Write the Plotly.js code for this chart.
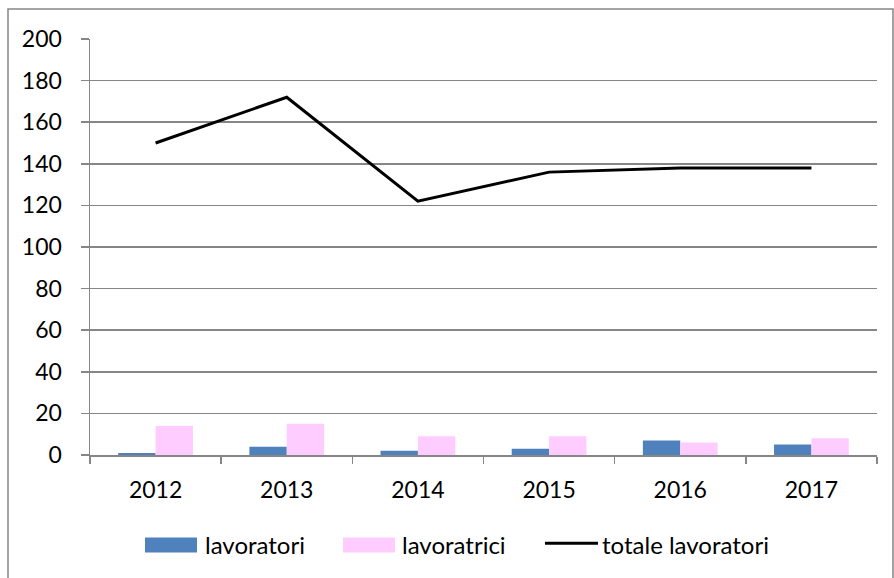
<!DOCTYPE html>
<html>
<head>
<meta charset="utf-8">
<script src="https://cdn.plot.ly/plotly-3.0.1.min.js"></script>
<style>html,body{margin:0;padding:0;background:#fff;}#chart{width:894px;height:578px;}</style>
</head>
<body>
<div id="chart"></div>
<script>
const years = ["2012", "2013", "2014", "2015", "2016", "2017"];
const lavoratori = [1, 4, 2, 3, 7, 5];
const lavoratrici = [14, 15, 9, 9, 6, 8];
const totaleLavoratori = [150, 172, 122, 136, 138, 138];
const yTicks = [0, 20, 40, 60, 80, 100, 120, 140, 160, 180, 200];
const seriesNames = ["lavoratori", "lavoratrici", "totale lavoratori"];
const seriesColors = ["#4F81BD", "#FFCCFF", "#000000"];

const font = "Lato, 'Open Sans', sans-serif";
const traces = [
  {type: "bar", name: seriesNames[0], x: years, y: lavoratori, marker: {color: seriesColors[0]}},
  {type: "bar", name: seriesNames[1], x: years, y: lavoratrici, marker: {color: seriesColors[1]}},
  {type: "scatter", mode: "lines", name: seriesNames[2], x: years, y: totaleLavoratori,
   line: {color: seriesColors[2], width: 3}}
];

// custom legend (positions in paper coords)
const legY = -0.2163, legH = 0.036;
const legend = [
  {x0: 0.0699, x1: 0.1360, tx: 0.1436, kind: "rect"},
  {x0: 0.3215, x1: 0.3875, tx: 0.3939, kind: "rect"},
  {x0: 0.5781, x1: 0.6455, tx: 0.6480, kind: "line"}
];
const shapes = [{type: "rect", xref: "paper", yref: "paper", x0: -0.1042, x1: 1.0203, y0: -0.33, y1: 1.072,
            line: {color: "#868686", width: 1.5}, fillcolor: "rgba(0,0,0,0)", layer: "below"}];
const annotations = [];
legend.forEach((l, i) => {
  if (l.kind === "rect") {
    shapes.push({type: "rect", xref: "paper", yref: "paper", x0: l.x0, x1: l.x1,
      y0: legY - legH / 2, y1: legY + legH / 2, line: {width: 0}, fillcolor: seriesColors[i]});
  } else {
    shapes.push({type: "line", xref: "paper", yref: "paper", x0: l.x0, x1: l.x1,
      y0: legY + 0.004, y1: legY + 0.004, line: {color: seriesColors[i], width: 3}});
  }
  annotations.push({xref: "paper", yref: "paper", x: l.tx, y: legY, xanchor: "left", yanchor: "middle",
    text: seriesNames[i], showarrow: false, font: {family: font, size: 24, color: "#000"}});
});

const layout = {
  width: 894, height: 578,
  margin: {l: 90, r: 17, t: 39, b: 123},
  paper_bgcolor: "#ffffff", plot_bgcolor: "#ffffff",
  barmode: "group", bargap: 0.43, bargroupgap: 0,
  font: {family: font, size: 23, color: "#000"},
  showlegend: false,
  xaxis: {type: "category", tickson: "boundaries", ticks: "outside", ticklen: 7, tickwidth: 1.5,
          tickcolor: "#868686", showline: true, linecolor: "#868686", linewidth: 1.5,
          showgrid: false, tickfont: {family: font, size: 23}, ticklabelstandoff: 14},
  yaxis: {range: [0, 200], tickvals: yTicks, ticktext: yTicks.map(String), ticks: "outside", ticklen: 8,
          tickwidth: 1.5, tickcolor: "#868686", showline: true, linecolor: "#868686", linewidth: 1.5,
          showgrid: true, gridcolor: "#868686", gridwidth: 1.5, zeroline: false,
          tickfont: {family: font, size: 23}, ticklabelstandoff: 14},
  shapes: shapes,
  annotations: annotations
};
Plotly.newPlot("chart", traces, layout, {displayModeBar: false, staticPlot: true});
</script>
</body>
</html>
